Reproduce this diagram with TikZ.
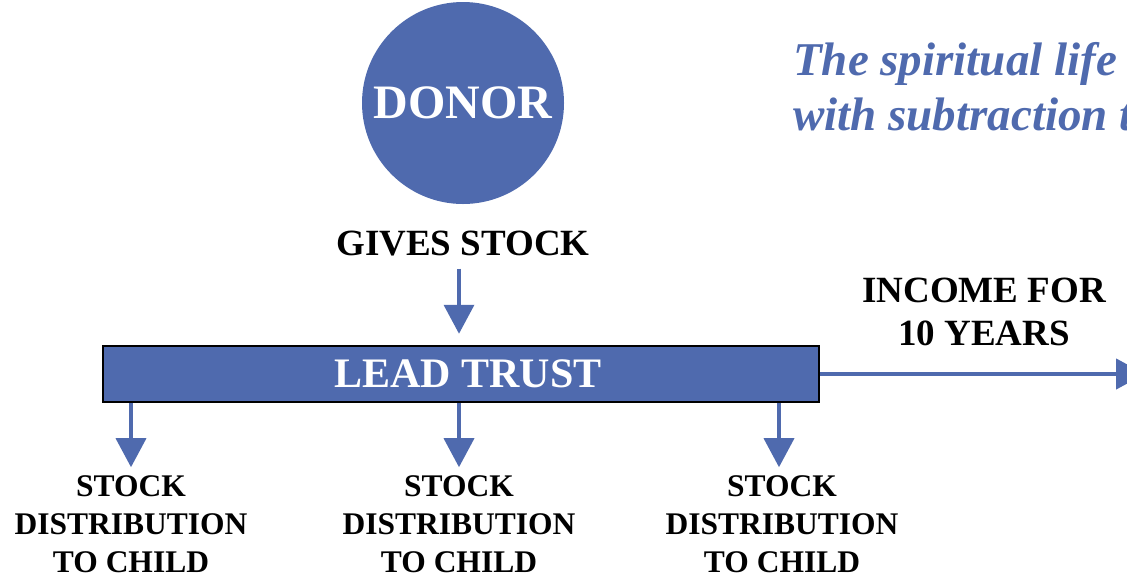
\documentclass[tikz,border=0pt]{standalone}
\usepackage{fontspec}
\setmainfont{Liberation Serif}
\usetikzlibrary{positioning, arrows.meta, calc}
\definecolor{trustblue}{HTML}{4F6AAE}

\begin{document}
\begin{tikzpicture}[x=1pt, y=-1pt,
    caption/.style={font=\fontsize{37}{43}\selectfont\bfseries, align=center, inner sep=0pt},
    distlabel/.style={font=\fontsize{31.5}{38}\selectfont\bfseries, align=center, inner sep=0pt},
    arrow/.style={-{Triangle[width=30pt, length=29pt]}, line width=3.7pt, draw=trustblue}
]
\useasboundingbox (0,0) rectangle (1127,574);
\clip (0,0) rectangle (1127,574);

%%%%%%%%%%%%%%%%%%%%%%%%%%%%%%%%%%%%%%%%%%%%%%%%%%%%%%%%%%%%%%%%%%%
% Donor and trust
%%%%%%%%%%%%%%%%%%%%%%%%%%%%%%%%%%%%%%%%%%%%%%%%%%%%%%%%%%%%%%%%%%%
\node[circle, fill=trustblue, minimum size=202pt, inner sep=0pt, text=white,
      font=\fontsize{48}{50}\selectfont\bfseries] (donor) at (463,103) {DONOR};

\node[caption] (gives) at (463,244) {GIVES STOCK};

\node[draw=black, line width=2.5pt, fill=trustblue, minimum width=716pt, minimum height=56pt,
      inner sep=0pt, text=white, font=\fontsize{42}{44}\selectfont\bfseries] (trust) at (461,374)
    {\hspace*{14pt}LEAD TRUST};

%%%%%%%%%%%%%%%%%%%%%%%%%%%%%%%%%%%%%%%%%%%%%%%%%%%%%%%%%%%%%%%%%%%
% Income
%%%%%%%%%%%%%%%%%%%%%%%%%%%%%%%%%%%%%%%%%%%%%%%%%%%%%%%%%%%%%%%%%%%
\node[caption] (income) at (984,312) {INCOME FOR\\10 YEARS};
\coordinate (incomeEnd) at (1145,374);

%%%%%%%%%%%%%%%%%%%%%%%%%%%%%%%%%%%%%%%%%%%%%%%%%%%%%%%%%%%%%%%%%%%
% Distributions
%%%%%%%%%%%%%%%%%%%%%%%%%%%%%%%%%%%%%%%%%%%%%%%%%%%%%%%%%%%%%%%%%%%
\node[distlabel] (distA) at (131,524) {STOCK\\DISTRIBUTION\\TO CHILD};
\node[distlabel] (distB) at (459,524) {STOCK\\DISTRIBUTION\\TO CHILD};
\node[distlabel] (distC) at (782,524) {STOCK\\DISTRIBUTION\\TO CHILD};

%%%%%%%%%%%%%%%%%%%%%%%%%%%%%%%%%%%%%%%%%%%%%%%%%%%%%%%%%%%%%%%%%%%
% Quote
%%%%%%%%%%%%%%%%%%%%%%%%%%%%%%%%%%%%%%%%%%%%%%%%%%%%%%%%%%%%%%%%%%%
\node[anchor=base west, inner sep=0pt, align=left, text=trustblue,
      font=\fontsize{47}{55}\selectfont\bfseries\itshape] (quote) at (793,130)
    {The spiritual life\\with subtraction t};

%%%%%%%%%%%%%%%%%%%%%%%%%%%%%%%%%%%%%%%%%%%%%%%%%%%%%%%%%%%%%%%%%%%
% Connections
%%%%%%%%%%%%%%%%%%%%%%%%%%%%%%%%%%%%%%%%%%%%%%%%%%%%%%%%%%%%%%%%%%%
\draw[arrow, shorten <=12pt, shorten >=11pt] ([xshift=-4pt]gives.south) -- ([xshift=-2pt]trust.north);
\draw[arrow, line width=4.5pt] (trust.east) -- (incomeEnd);
\draw[arrow, shorten >=8pt] (trust.south -| distA) -- (distA.north);
\draw[arrow, shorten >=8pt] (trust.south -| distB) -- (distB.north);
\draw[arrow, shorten >=8pt] ($(trust.south -| distC)+(-3,0)$) -- ([xshift=-3pt]distC.north);

\end{tikzpicture}
\end{document}
